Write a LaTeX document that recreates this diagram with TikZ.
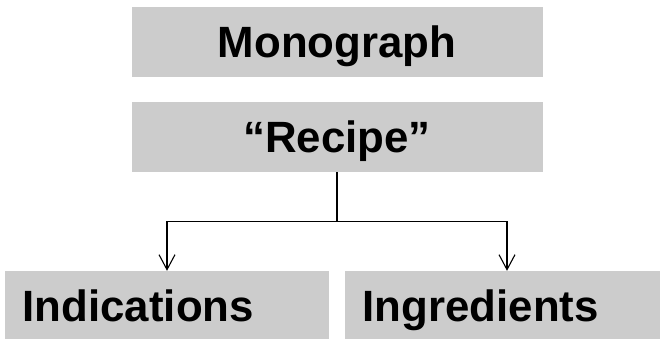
\documentclass[tikz,border=0pt]{standalone}
\definecolor{boxgray}{RGB}{204, 204, 204}
\usepackage{fontspec}
\setmainfont{Liberation Sans}
\usepackage{tikz}
\usetikzlibrary{arrows.meta, positioning, calc}

\begin{document}
\begin{tikzpicture}[x=1pt, y=-1pt,
    graybox/.style={fill=boxgray, inner sep=0pt, minimum height=70pt, text height=31.5pt, text depth=0pt, font=\fontsize{43.8}{43.8}\selectfont\bfseries},
    wide/.style={graybox, minimum width=411pt, align=center},
    leftbox/.style={graybox, inner xsep=17.7pt, text width=288.6pt, align=left},
    link/.style={line width=1.1pt}]
  \useasboundingbox (0, 0) rectangle (660, 339);

  % Top boxes
  \node[wide] (monograph) at (337, 42) {Monograph};
  \node[wide] (recipe) at (337, 137) {“Recipe”};

  % Bottom boxes
  \node[leftbox] (indications) at (167, 306) {Indications};
  \node[leftbox] (ingredients) at (507, 306) {Ingredients};

  % Split
  \draw[link] (recipe.south) -- ++(0, 49.7) coordinate (split);
  \draw[link, -{Straight Barb[length=15pt, width=16pt]}] (split) -| (indications.north);
  \draw[link, -{Straight Barb[length=15pt, width=16pt]}] (split) -| (ingredients.north);
\end{tikzpicture}
\end{document}
